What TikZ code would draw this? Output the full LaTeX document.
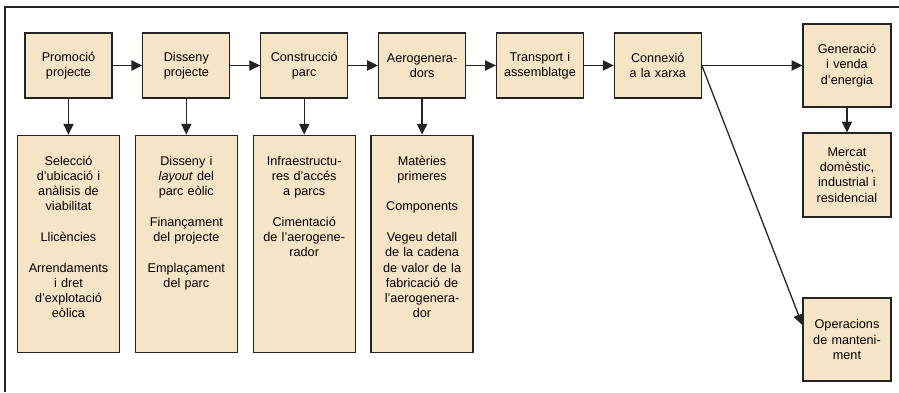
\documentclass[tikz,border=0pt]{standalone}
\usepackage{fontspec}
\setmainfont{Liberation Sans}
\usetikzlibrary{positioning,arrows.meta}
\definecolor{boxfill}{RGB}{246,228,198}
\definecolor{boxline}{RGB}{35,35,35}
\newcommand{\gapline}{\\[14.5pt]}

\tikzset{
  stage/.style={draw=boxline, line width=1.1pt, fill=boxfill, align=center, text width=2.7cm,
    minimum width=2.9cm, minimum height=2.17cm, inner sep=0.1cm, font=\fontsize{12}{14.5}\selectfont},
  detail/.style={stage, text width=3.2cm, minimum width=3.4cm, inner xsep=0.1cm, inner ysep=0.68cm,
    text height=9pt, text depth=5.556cm},
  flow/.style={line width=1.2pt, boxline, -{Triangle[length=3.6mm,width=3.4mm]}}
}

\begin{document}
\begin{tikzpicture}[node distance=0.99cm]
  \useasboundingbox (0,0) rectangle (29.967,-13.067);
  % marc
  \draw[line width=1.2pt, boxline] (0.167,-13.067) -- (0.167,-0.233) -- (29.967,-0.233);

  % cadena principal
  \node[stage] (promo) at (2.283,-2.183) {Promoció\\projecte};
  \node[stage, right=of promo] (disseny) {Disseny\\projecte};
  \node[stage, right=of disseny] (constr) {Construcció\\parc};
  \node[stage, right=of constr] (aero) {Aerogenera-\\dors};
  \node[stage, right=of aero] (transp) {Transport i\\assemblatge};
  \node[stage, right=of transp] (conn) {Connexió\\a la xarxa};
  \node[stage, minimum height=2.77cm, minimum width=2.93cm] (gener) at (28.233,-2.183) {Generació\\i venda\\d'energia};
  \node[stage, minimum height=2.8cm, minimum width=2.93cm] (mercat) at (28.233,-5.833) {Mercat\\domèstic,\\industrial i\\residencial};
  \node[stage, minimum height=2.77cm, minimum width=2.93cm] (oper) at (28.233,-11.317) {Operacions\\de manteni-\\ment};

  % detalls
  \node[detail, below=1.2cm of promo] (selec) {Selecció\\d’ubicació i\\anàlisis de\\viabilitat\gapline
    Llicències\gapline Arrendaments\\i dret\\d’explotació\\eòlica};
  \node[detail, below=1.2cm of disseny] (layout) {Disseny i\\\textit{layout} del\\parc eòlic\gapline
    Finançament\\del projecte\gapline Emplaçament\\del parc};
  \node[detail, below=1.2cm of constr] (infra) {Infraestructu-\\res d’accés\\a parcs\gapline
    Cimentació\\de l’aerogene-\\rador};
  \node[detail, below=1.2cm of aero] (mater) {Matèries\\primeres\gapline Components\gapline
    Vegeu detall\\de la cadena\\de valor de la\\fabricació de\\l’aerogenera-\\dor};

  % fletxes
  \draw[flow] (promo) -- (disseny);
  \draw[flow] (disseny) -- (constr);
  \draw[flow] (constr) -- (aero);
  \draw[flow] (aero) -- (transp);
  \draw[flow] (transp) -- (conn);
  \draw[flow] (conn) -- (gener);
  \draw[flow] (gener) -- (mercat);
  \draw[flow] (conn.east) -- ([yshift=0.48cm]oper.west);
  \draw[flow] (promo) -- (selec);
  \draw[flow] (disseny) -- (layout);
  \draw[flow] (constr) -- (infra);
  \draw[flow] (aero) -- (mater);
\end{tikzpicture}
\end{document}
